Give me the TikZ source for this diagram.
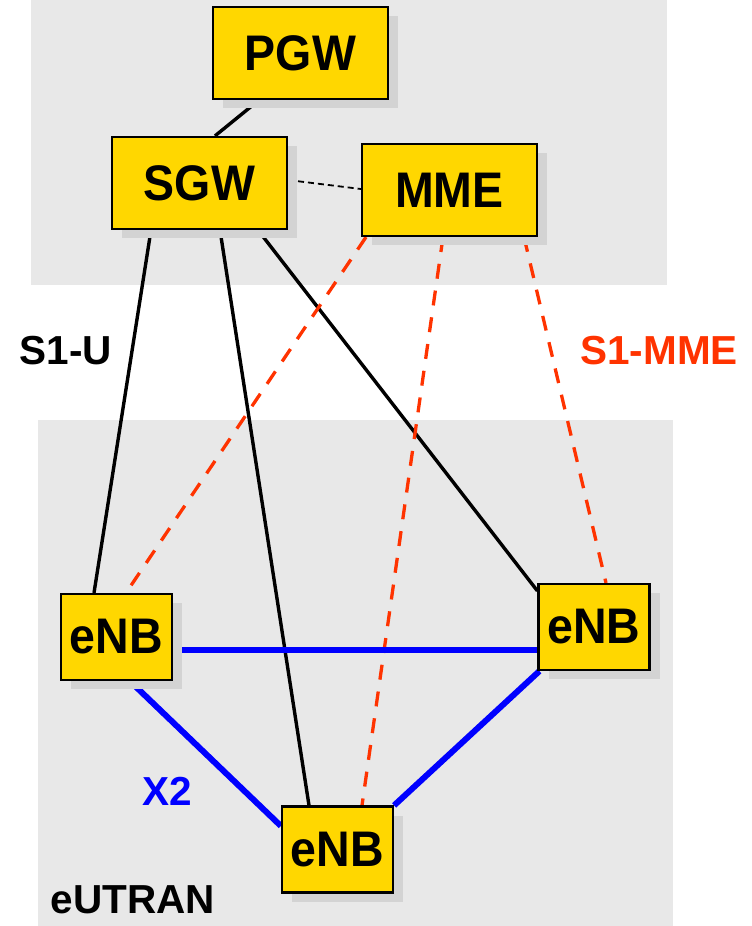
\documentclass[tikz,border=0pt]{standalone}
\usepackage{fontspec}
\setmainfont{Liberation Sans}
\newfontfamily\tallsans[FakeStretch=0.93]{Liberation Sans}
\usetikzlibrary{shadows}
\definecolor{panel}{HTML}{E8E8E8}
\definecolor{boxfill}{HTML}{FFD700}
\definecolor{boxshadow}{HTML}{D3D3D3}
\definecolor{sigred}{HTML}{FF3300}
\definecolor{xblue}{HTML}{0000FF}
\pgfdeclarelayer{panels}
\pgfdeclarelayer{links}
\pgfsetlayers{panels,links,main}

\begin{document}
\begin{tikzpicture}[x=1pt,y=-1pt,
  netbox/.style={draw=black, line width=2.2pt, fill=boxfill, inner sep=0pt,
    font=\tallsans\fontsize{50}{50}\selectfont\bfseries,
    drop shadow={shadow xshift=10pt, shadow yshift=-9pt, fill=boxshadow, opacity=1}},
  corebox/.style={netbox, minimum width=175pt, minimum height=92pt},
  enbbox/.style={netbox, minimum width=111pt, minimum height=86pt},
  lbl/.style={font=\fontsize{40.5}{40.5}\selectfont\bfseries, inner sep=0pt},
  userplane/.style={line width=3.4pt, draw=black},
  s1mme/.style={line width=3.3pt, draw=sigred, dash pattern=on 15pt off 12pt},
  x2link/.style={line width=6pt, draw=xblue},
  ctrl/.style={line width=1.8pt, draw=black, dash pattern=on 6pt off 4pt}
]
\useasboundingbox (0,0) rectangle (752,926);

% grey panels: core network and radio access network
\begin{pgfonlayer}{panels}
  \fill[panel] (31,0) rectangle (667,285);
  \fill[panel] (38,420) rectangle (673,926);
\end{pgfonlayer}

% network elements
\node[corebox] (pgw) at (300.5,53) {PGW};
\node[corebox] (sgw) at (199.5,183) {SGW};
\node[corebox] (mme) at (449.5,190) {MME};
\node[enbbox] (enbL) at (116.5,637) {eNB};
\node[enbbox] (enbR) at (594,627) {eNB};
\node[enbbox] (enbB) at (337.5,849.5) {eNB};

% interface labels
\node[lbl] (s1u) at (66,351) {S1-U};
\node[lbl, text=sigred] (s1m) at (659,351) {S1-MME};
\node[lbl, text=xblue] (x2) at (167,791) {X2};
\node[lbl] (eutran) at (133,900) {eUTRAN};

% links
\begin{pgfonlayer}{links}
  \draw[userplane] ([xshift=-41.5pt]pgw.south) -- ([xshift=15.5pt]sgw.north);
  \draw[ctrl] ([yshift=3pt]sgw.east) -- ([yshift=1pt]mme.west);

  \draw[userplane] ([xshift=-48.5pt]sgw.south) -- ([xshift=-22.5pt]enbL.north);
  \draw[userplane] ([xshift=20.5pt]sgw.south) -- ([xshift=-28.5pt]enbB.north);
  \draw[userplane] ([xshift=58.5pt]sgw.south) -- ([yshift=-8pt]enbR.north west);

  \draw[s1mme] ([xshift=-83.5pt]mme.south) -- ([xshift=9.5pt]enbL.north);
  \draw[s1mme] ([xshift=-6.5pt]mme.south) -- ([xshift=24.5pt]enbB.north);
  \draw[s1mme] ([xshift=74.5pt]mme.south) -- ([xshift=12pt]enbR.north);

  \draw[x2link] ([yshift=-13pt]enbL.east) -- ([yshift=-23pt]enbR.west);
  \draw[x2link] ([xshift=13.5pt]enbL.south) -- ([yshift=23.5pt]enbB.west);
  \draw[x2link] ([xshift=2pt]enbR.south west) -- (enbB.north east);
\end{pgfonlayer}
\end{tikzpicture}
\end{document}
